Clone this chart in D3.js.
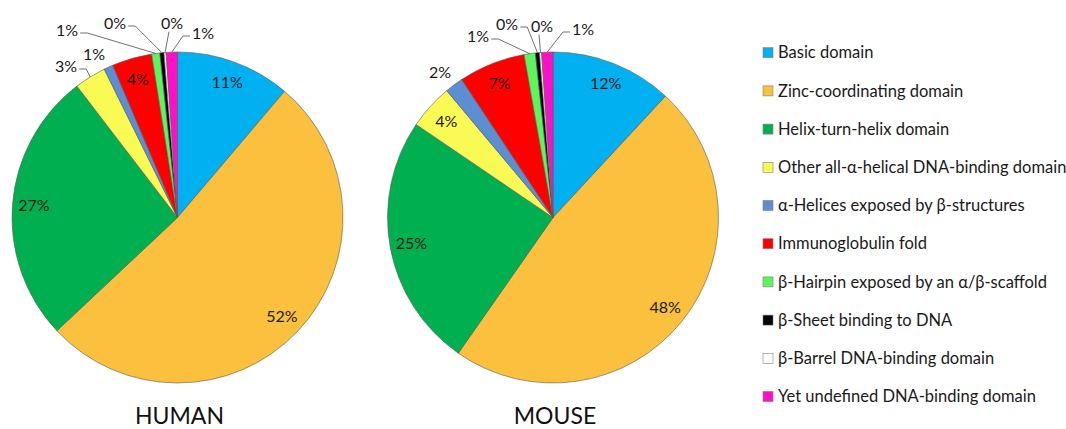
<!DOCTYPE html>
<html lang="en">
<head>
  <meta charset="UTF-8">
  <title>DNA-binding domain classes: human vs mouse</title>
  <script src="https://d3js.org/d3.v7.min.js"></script>
  <style>
    body { margin: 0; background: #fff; }
    svg { display: block; font-family: Lato, "Open Sans", "DejaVu Sans", sans-serif; }
    .slice { stroke: #5a5a5a; stroke-width: 0.6; }
    .pct { font-size: 16px; fill: #1a1a1a; }
    .leader { fill: none; stroke: #4d4d4d; stroke-width: 0.8; }
    .legend text { font-size: 16.5px; fill: #1a1a1a; }
    .legend rect { stroke: #808080; stroke-width: 0.6; }
    .title { font-size: 23px; fill: #111; }
  </style>
</head>
<body>
  <svg width="1066" height="429"></svg>
  <script>
    // categories in drawing order (clockwise from 12 o'clock)
    const categories = [
      "Basic domain",
      "Zinc-coordinating domain",
      "Helix-turn-helix domain",
      "Other all-α-helical DNA-binding domain",
      "α-Helices exposed by β-structures",
      "Immunoglobulin fold",
      "β-Hairpin exposed by an α/β-scaffold",
      "β-Sheet binding to DNA",
      "β-Barrel DNA-binding domain",
      "Yet undefined DNA-binding domain"
    ];
    // percent of transcription factors
    const humanValues = [11.2, 51.8, 26.6, 3.1, 0.9, 3.9, 0.8, 0.4, 0.2, 1.1];
    const mouseValues = [11.9, 47.8, 24.8, 4.4, 1.8, 6.5, 1.1, 0.4, 0.2, 1.1];
    const pieTitles = ["HUMAN", "MOUSE"];

    const colors = ["#00b0f0", "#fac03e", "#00b050", "#fafa55", "#5b8fd2",
                    "#ff0000", "#5cf55c", "#000000", "#ffffff", "#ff10c8"];

    // placement of the labels Excel pushed outside the pie (offsets from centre)
    const outsideLabels = [
      { 3: {dx: -111.5, dy: -151.5}, 4: {dx: -83.5, dy: -163.5, leader: false},
        6: {dx: -110.5, dy: -187.5}, 7: {dx: -62.5, dy: -194.5},
        8: {dx: -5.5, dy: -194.5}, 9: {dx: 25.5, dy: -184.5} },
      { 4: {dx: -113, dy: -145.5, leader: false},
        6: {dx: -75, dy: -181.5}, 7: {dx: -46, dy: -193.5},
        8: {dx: -11, dy: -191.5}, 9: {dx: 30, dy: -188.5} }
    ];

    const svg = d3.select("svg");
    const radius = 165.5;
    const centers = [[177.5, 217.5], [553, 217.5]];

    const color = d3.scaleOrdinal().domain(categories).range(colors);
    const pie = d3.pie().sort(null).value(d => d.value);
    const arc = d3.arc().innerRadius(0).outerRadius(radius);
    const pct = v => Math.round(v) + "%";

    [humanValues, mouseValues].forEach((values, p) => {
      const [cx, cy] = centers[p];
      const g = svg.append("g").attr("transform", `translate(${cx},${cy})`);
      const arcs = pie(values.map((v, i) => ({name: categories[i], value: v, i})));

      g.selectAll(".slice")
        .data(arcs)
        .enter()
        .append("path")
        .attr("class", "slice")
        .attr("fill", d => color(d.data.name))
        .attr("d", arc);

      const outside = outsideLabels[p];
      arcs.forEach(d => {
        const mid = (d.startAngle + d.endAngle) / 2;
        const lay = outside[d.data.i];
        if (!lay) {
          const rr = radius * 0.87;
          g.append("text")
            .attr("class", "pct")
            .attr("x", rr * Math.sin(mid))
            .attr("y", -rr * Math.cos(mid))
            .attr("dy", "0.35em")
            .attr("text-anchor", "middle")
            .text(pct(d.data.value));
          return;
        }
        const t = g.append("text")
          .attr("class", "pct")
          .attr("x", lay.dx)
          .attr("y", lay.dy)
          .attr("dy", "0.35em")
          .attr("text-anchor", "middle")
          .text(pct(d.data.value));
        if (lay.leader === false) return;

        const bb = t.node().getBBox();
        const ax = radius * Math.sin(mid), ay = -radius * Math.cos(mid);
        let pts;
        if (ax > bb.x + bb.width + 4) {
          const sx = bb.x + bb.width + 2, sy = lay.dy + 3;
          pts = [[sx, sy], [sx + 7, sy], [ax, ay]];
        } else if (ax < bb.x - 4) {
          const sx = bb.x - 2, sy = lay.dy + 3;
          pts = [[sx, sy], [sx - 7, sy], [ax, ay]];
        } else {
          pts = [[lay.dx - 3, bb.y + bb.height], [ax, ay]];
        }
        g.append("path")
          .attr("class", "leader")
          .attr("d", d3.line()(pts));
      });

      svg.append("text")
        .attr("class", "title")
        .attr("x", cx + 2)
        .attr("y", 424)
        .attr("text-anchor", "middle")
        .text(pieTitles[p]);
    });

    // legend
    const legend = svg.append("g").attr("class", "legend");
    const rowY = d3.scalePoint().domain(categories).range([52.7, 396.5]);
    const rows = legend.selectAll("g")
      .data(categories)
      .enter()
      .append("g")
      .attr("transform", d => `translate(763,${rowY(d)})`);
    rows.append("rect")
      .attr("x", 0).attr("y", -5)
      .attr("width", 10).attr("height", 10)
      .attr("fill", d => color(d));
    rows.append("text")
      .attr("x", 15)
      .attr("dy", "0.35em")
      .text(d => d);
  </script>
</body>
</html>
